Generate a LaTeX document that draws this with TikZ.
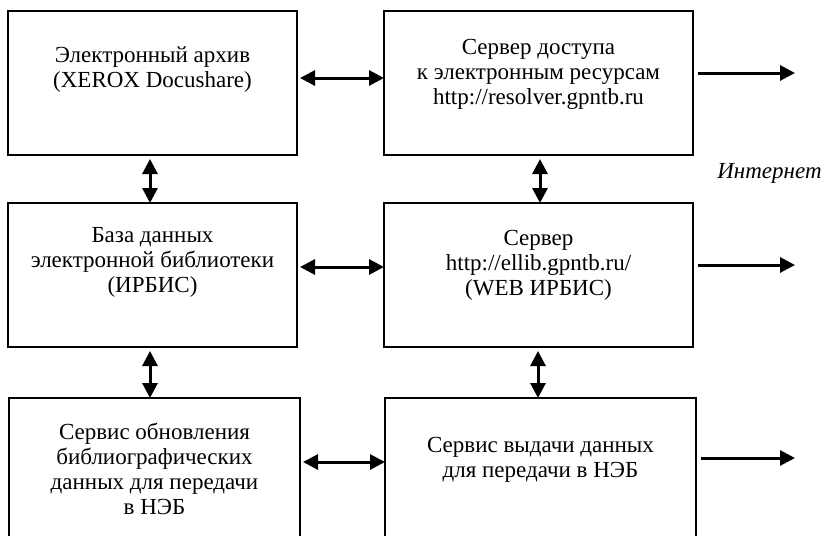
\documentclass[tikz,border=0pt]{standalone}
\usepackage{fontspec}
\setmainfont{Liberation Serif}
\usetikzlibrary{arrows.meta,positioning}
\tikzstyle{box}=[draw,rectangle,line width=1pt,inner sep=0pt,outer sep=0pt,minimum height=72pt]
\tikzstyle{txt}=[align=center,inner sep=0pt,font=\fontsize{11.5}{12.5}\selectfont]
\tikzstyle{link}=[line width=1.5pt,{Triangle[length=7.5pt,width=7.5pt]}-{Triangle[length=7.5pt,width=7.5pt]}]
\tikzstyle{exit}=[line width=1.5pt,-{Triangle[length=7.5pt,width=7.5pt]},shorten <=2.5pt]
\begin{document}
\begin{tikzpicture}[x=0.5pt,y=-0.5pt]
\useasboundingbox (0,0) rectangle (826,536);
\clip (0,0) rectangle (826,536);

% boxes
\node[box,minimum width=144.5pt] (arch) at (152.5,83) {};
\node[box,minimum width=154.5pt,right=43.5pt of arch] (res) {};
\node[box,minimum width=144.5pt,below=24pt of arch] (db) {};
\node[box,minimum width=154.5pt,below=24pt of res] (web) {};
\node[box,minimum width=145.5pt,minimum height=76pt] (upd) at (154.5,474) {};
\node[box,minimum width=155.5pt,minimum height=76pt] (neb) at (540.5,474) {};

% texts
\node[txt,below=17.5pt of arch.north] (archtxt) {Электронный архив\\(XEROX Docushare)};
\node[txt,below=14pt of res.north] (restxt) {Сервер доступа\\к электронным ресурсам\\http://resolver.gpntb.ru};
\node[txt,below=12pt of db.north] (dbtxt) {База данных\\электронной библиотеки\\(ИРБИС)};
\node[txt,below=13.5pt of web.north] (webtxt) {Сервер\\http://ellib.gpntb.ru/\\(WEB ИРБИС)};
\node[txt,below=12.5pt of upd.north] (updtxt) {Сервис обновления\\библиографических\\данных для передачи\\в НЭБ};
\node[txt,below=19.5pt of neb.north] (nebtxt) {Сервис выдачи данных\\для передачи в НЭБ};
\node[txt,font=\fontsize{11.5}{12.5}\selectfont\itshape] (inet) at (769.5,173) {Интернет};

% free ends
\coordinate (resout) at (795,73);
\coordinate (webout) at (795,265);
\coordinate (nebout) at (795,458);

% links
\draw[link,shorten <=1.5pt] ([yshift=2.5pt]arch.east) -- ([yshift=2.5pt]res.west);
\draw[link,shorten <=1.5pt] ([yshift=4pt]db.east) -- ([yshift=4pt]web.west);
\draw[link,shorten <=1.5pt] ([yshift=6pt]upd.east) -- ([yshift=6pt]neb.west);
\draw[link,shorten <=2pt] ([xshift=-1.25pt]arch.south) -- ([xshift=-1.25pt]db.north);
\draw[link,shorten <=2pt] ([xshift=0.75pt]res.south) -- ([xshift=0.75pt]web.north);
\draw[link,shorten <=2pt] ([xshift=-1.25pt]db.south) -- ([xshift=-1.25pt]db.south |- upd.north);
\draw[link,shorten <=2pt] ([xshift=-0.25pt]web.south) -- ([xshift=-0.25pt]web.south |- neb.north);
\draw[exit] ([yshift=5pt]res.east) -- (resout);
\draw[exit] ([yshift=5pt]web.east) -- (webout);
\draw[exit] ([yshift=8pt]neb.east) -- (nebout);
\end{tikzpicture}
\end{document}
